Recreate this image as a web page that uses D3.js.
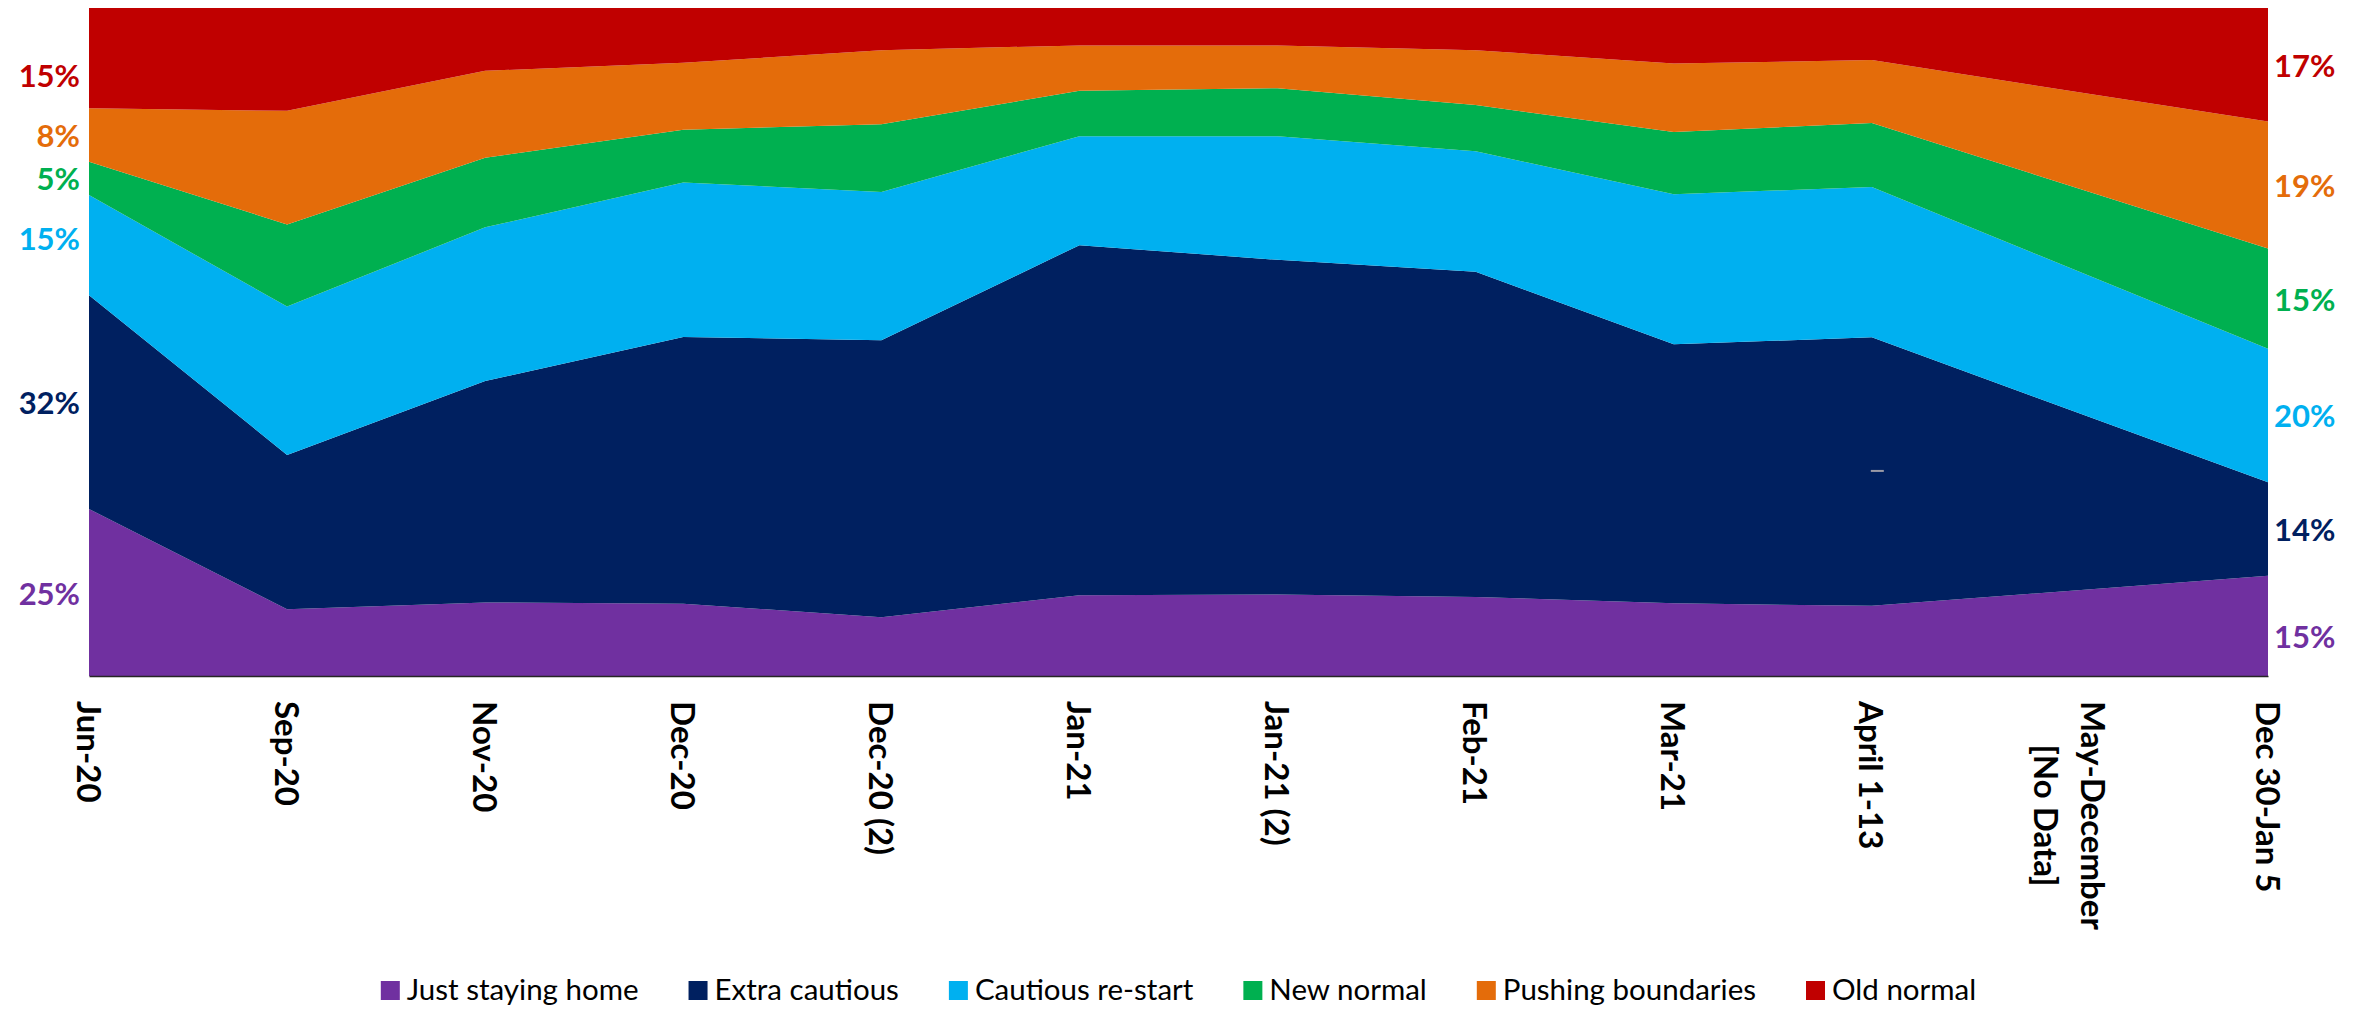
<!DOCTYPE html>
<html>
<head>
<meta charset="utf-8">
<script src="https://cdn.jsdelivr.net/npm/d3@7"></script>
<style>
  html, body { margin: 0; padding: 0; background: #ffffff; }
  svg { display: block; }
</style>
</head>
<body>
<svg id="chart" width="2356" height="1010"></svg>
<script>
// Survey waves (x axis); "\n" splits a label over two lines
const categories = [
  "Jun-20", "Sep-20", "Nov-20", "Dec-20", "Dec-20 (2)", "Jan-21",
  "Jan-21 (2)", "Feb-21", "Mar-21", "April 1-13", "May-December\n[No Data]", "Dec 30-Jan 5"
];

// Share of respondents per segment (%), null where no survey was run
const justStayingHome   = [25, 10.0, 11.0, 10.8,  8.8, 12.1, 12.2, 11.8, 10.9, 10.5, null, 15];
const extraCautious     = [32, 23.1, 33.1, 39.9, 41.4, 52.4, 50.1, 48.6, 38.8, 40.2, null, 14];
const cautiousRestart   = [15, 22.2, 23.0, 23.1, 22.2, 16.3, 18.5, 18.0, 22.5, 22.5, null, 20];
const newNormal         = [ 5, 12.3, 10.4,  7.9, 10.1,  6.8,  7.2,  6.9,  9.3,  9.6, null, 15];
const pushingBoundaries = [ 8, 17.0, 13.0, 10.0, 11.1,  6.8,  6.4,  8.2, 10.3,  9.4, null, 19];
const oldNormal         = [15, 15.4,  9.4,  8.2,  6.3,  5.6,  5.6,  6.3,  8.3,  7.8, null, 17];

const seriesNames = ["Just staying home", "Extra cautious", "Cautious re-start", "New normal", "Pushing boundaries", "Old normal"];
const seriesValues = [justStayingHome, extraCautious, cautiousRestart, newNormal, pushingBoundaries, oldNormal];
const seriesColors = ["#7030A0", "#002060", "#00B0F0", "#00B050", "#E46C0A", "#C00000"];

// Vertical nudges (px) for the end-of-series value labels
const leftNudge  = [0, 0, -7, 0, 0, 17];
const rightNudge = [10, 0, 0, 0, 0, 0];

const margin = { left: 89, right: 2356 - 2268, top: 8, bottom: 1010 - 676 };
const W = 2356, H = 1010;
const svg = d3.select("#chart");

// Rows for the stack; waves without data are skipped so the areas join their neighbours
const rows = categories.map((c, i) => {
  const r = { category: c };
  seriesNames.forEach((s, k) => { r[s] = seriesValues[k][i]; });
  return r;
}).filter(r => seriesNames.every(s => r[s] != null));

const stacked = d3.stack()
  .keys(seriesNames)
  .offset(d3.stackOffsetExpand)(rows);

const x = d3.scalePoint()
  .domain(categories)
  .range([margin.left, W - margin.right]);

const y = d3.scaleLinear()
  .domain([0, 1])
  .range([H - margin.bottom, margin.top]);

const area = d3.area()
  .x(d => x(d.data.category))
  .y0(d => y(d[0]))
  .y1(d => y(d[1]));

svg.append("g")
  .selectAll("path")
  .data(stacked)
  .join("path")
  .attr("fill", (d, i) => seriesColors[i])
  .attr("d", area);

// Stray dash inside the Extra cautious band
svg.append("line")
  .attr("x1", x("April 1-13") - 1)
  .attr("x2", x("April 1-13") + 12)
  .attr("y1", y(0.307))
  .attr("y2", y(0.307))
  .attr("stroke", "#9a9aa6")
  .attr("stroke-width", 2);

// X axis with vertical, bold category labels
const xAxis = svg.append("g")
  .attr("transform", `translate(0,${H - margin.bottom})`)
  .call(d3.axisBottom(x).tickSize(0).tickSizeOuter(0).tickPadding(0));

xAxis.select(".domain")
  .attr("stroke", "#262626")
  .attr("stroke-width", 1.5);

// Lines of a label are centred on one another; the block starts just below the axis
const lineH = 47;
xAxis.selectAll(".tick text")
  .attr("fill", "#000")
  .attr("font-family", "Lato, 'Open Sans', sans-serif")
  .attr("font-weight", "bold")
  .attr("font-size", 33)
  .attr("text-anchor", "middle")
  .attr("dominant-baseline", "central")
  .attr("transform", "translate(0,25) rotate(90)")
  .attr("y", 0)
  .attr("dy", null)
  .each(function (d) {
    const lines = d.split("\n");
    const t = d3.select(this).text(null);
    const spans = lines.map((ln, i) => t.append("tspan")
      .attr("dy", i === 0 ? -(lines.length - 1) / 2 * lineH : lineH)
      .text(ln));
    const longest = d3.max(spans, s => s.node().getComputedTextLength());
    spans.forEach(s => s.attr("x", longest / 2));
  });

// Value labels at both ends of the chart
const firstIdx = 0, lastIdx = rows.length - 1;
const labelFont = "Lato, 'Open Sans', sans-serif";

svg.append("g")
  .selectAll("text")
  .data(stacked)
  .join("text")
  .attr("x", 80)
  .attr("y", (s, i) => y((s[firstIdx][0] + s[firstIdx][1]) / 2) + leftNudge[i])
  .attr("text-anchor", "end")
  .attr("dominant-baseline", "central")
  .attr("font-family", labelFont)
  .attr("font-weight", "bold")
  .attr("font-size", 31)
  .attr("fill", (s, i) => seriesColors[i])
  .text((s, i) => d3.format(".0f")(seriesValues[i][0]) + "%");

svg.append("g")
  .selectAll("text")
  .data(stacked)
  .join("text")
  .attr("x", W - margin.right + 6)
  .attr("y", (s, i) => y((s[lastIdx][0] + s[lastIdx][1]) / 2) + rightNudge[i])
  .attr("text-anchor", "start")
  .attr("dominant-baseline", "central")
  .attr("font-family", labelFont)
  .attr("font-weight", "bold")
  .attr("font-size", 31)
  .attr("fill", (s, i) => seriesColors[i])
  .text((s, i) => d3.format(".0f")(seriesValues[i][categories.length - 1]) + "%");

// Legend, centred under the plot
const legend = svg.append("g");
const sq = 19, sqGap = 7, itemGap = 50, baseline = 1000;
const items = legend.selectAll("g")
  .data(seriesNames)
  .join("g");

items.append("rect")
  .attr("width", sq)
  .attr("height", sq)
  .attr("y", baseline - sq)
  .attr("fill", (d, i) => seriesColors[i]);

items.append("text")
  .attr("x", sq + sqGap)
  .attr("y", baseline)
  .attr("font-family", labelFont)
  .attr("font-size", 29.5)
  .attr("fill", "#000")
  .text(d => d);

let cursor = 0;
const offsets = [];
items.each(function () {
  const w = sq + sqGap + d3.select(this).select("text").node().getComputedTextLength();
  offsets.push(cursor);
  cursor += w + itemGap;
});
const total = cursor - itemGap;
const start = (margin.left + W - margin.right) / 2 - total / 2;
items.attr("transform", (d, i) => `translate(${start + offsets[i]},0)`);
</script>
</body>
</html>
